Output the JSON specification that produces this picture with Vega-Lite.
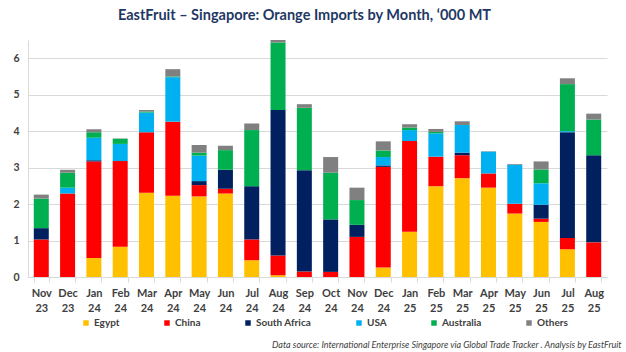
{
  "$schema": "https://vega.github.io/schema/vega-lite/v6.json",
  "width": 579,
  "height": 237,
  "autosize": {"type": "none"},
  "padding": {"left": 28, "top": 40, "right": 19, "bottom": 75},
  "background": "white",
  "title": {"text": "EastFruit – Singapore: Orange Imports by Month, ‘000 MT", "font": "Lato", "fontSize": 14.5, "fontWeight": "bold", "color": "#1F3864", "anchor": "middle", "offset": 17, "dx": -13},
  "data": {"values": [
    {"month": "Nov 23", "country": "China", "value": 1.03},
    {"month": "Nov 23", "country": "South Africa", "value": 0.31},
    {"month": "Nov 23", "country": "Australia", "value": 0.81},
    {"month": "Nov 23", "country": "Others", "value": 0.11},
    {"month": "Dec 23", "country": "China", "value": 2.29},
    {"month": "Dec 23", "country": "USA", "value": 0.16},
    {"month": "Dec 23", "country": "Australia", "value": 0.41},
    {"month": "Dec 23", "country": "Others", "value": 0.08},
    {"month": "Jan 24", "country": "Egypt", "value": 0.52},
    {"month": "Jan 24", "country": "China", "value": 2.65},
    {"month": "Jan 24", "country": "South Africa", "value": 0.03},
    {"month": "Jan 24", "country": "USA", "value": 0.62},
    {"month": "Jan 24", "country": "Australia", "value": 0.15},
    {"month": "Jan 24", "country": "Others", "value": 0.08},
    {"month": "Feb 24", "country": "Egypt", "value": 0.83},
    {"month": "Feb 24", "country": "China", "value": 2.35},
    {"month": "Feb 24", "country": "USA", "value": 0.47},
    {"month": "Feb 24", "country": "Australia", "value": 0.14},
    {"month": "Feb 24", "country": "Others", "value": 0.01},
    {"month": "Mar 24", "country": "Egypt", "value": 2.31},
    {"month": "Mar 24", "country": "China", "value": 1.66},
    {"month": "Mar 24", "country": "USA", "value": 0.54},
    {"month": "Mar 24", "country": "Australia", "value": 0.03},
    {"month": "Mar 24", "country": "Others", "value": 0.04},
    {"month": "Apr 24", "country": "Egypt", "value": 2.23},
    {"month": "Apr 24", "country": "China", "value": 2.03},
    {"month": "Apr 24", "country": "USA", "value": 1.22},
    {"month": "Apr 24", "country": "Australia", "value": 0.02},
    {"month": "Apr 24", "country": "Others", "value": 0.2},
    {"month": "May 24", "country": "Egypt", "value": 2.21},
    {"month": "May 24", "country": "China", "value": 0.31},
    {"month": "May 24", "country": "South Africa", "value": 0.11},
    {"month": "May 24", "country": "USA", "value": 0.7},
    {"month": "May 24", "country": "Australia", "value": 0.08},
    {"month": "May 24", "country": "Others", "value": 0.21},
    {"month": "Jun 24", "country": "Egypt", "value": 2.29},
    {"month": "Jun 24", "country": "China", "value": 0.13},
    {"month": "Jun 24", "country": "South Africa", "value": 0.52},
    {"month": "Jun 24", "country": "Australia", "value": 0.54},
    {"month": "Jun 24", "country": "Others", "value": 0.12},
    {"month": "Jul 24", "country": "Egypt", "value": 0.46},
    {"month": "Jul 24", "country": "China", "value": 0.57},
    {"month": "Jul 24", "country": "South Africa", "value": 1.46},
    {"month": "Jul 24", "country": "Australia", "value": 1.54},
    {"month": "Jul 24", "country": "Others", "value": 0.18},
    {"month": "Aug 24", "country": "Egypt", "value": 0.05},
    {"month": "Aug 24", "country": "China", "value": 0.54},
    {"month": "Aug 24", "country": "South Africa", "value": 3.99},
    {"month": "Aug 24", "country": "Australia", "value": 1.85},
    {"month": "Aug 24", "country": "Others", "value": 0.07},
    {"month": "Sep 24", "country": "China", "value": 0.15},
    {"month": "Sep 24", "country": "South Africa", "value": 2.78},
    {"month": "Sep 24", "country": "Australia", "value": 1.71},
    {"month": "Sep 24", "country": "Others", "value": 0.1},
    {"month": "Oct 24", "country": "China", "value": 0.14},
    {"month": "Oct 24", "country": "South Africa", "value": 1.44},
    {"month": "Oct 24", "country": "Australia", "value": 1.28},
    {"month": "Oct 24", "country": "Others", "value": 0.43},
    {"month": "Nov 24", "country": "China", "value": 1.1},
    {"month": "Nov 24", "country": "South Africa", "value": 0.33},
    {"month": "Nov 24", "country": "Australia", "value": 0.68},
    {"month": "Nov 24", "country": "Others", "value": 0.34},
    {"month": "Dec 24", "country": "Egypt", "value": 0.26},
    {"month": "Dec 24", "country": "China", "value": 2.76},
    {"month": "Dec 24", "country": "South Africa", "value": 0.04},
    {"month": "Dec 24", "country": "USA", "value": 0.23},
    {"month": "Dec 24", "country": "Australia", "value": 0.18},
    {"month": "Dec 24", "country": "Others", "value": 0.25},
    {"month": "Jan 25", "country": "Egypt", "value": 1.24},
    {"month": "Jan 25", "country": "China", "value": 2.49},
    {"month": "Jan 25", "country": "USA", "value": 0.3},
    {"month": "Jan 25", "country": "Australia", "value": 0.07},
    {"month": "Jan 25", "country": "Others", "value": 0.09},
    {"month": "Feb 25", "country": "Egypt", "value": 2.49},
    {"month": "Feb 25", "country": "China", "value": 0.81},
    {"month": "Feb 25", "country": "USA", "value": 0.64},
    {"month": "Feb 25", "country": "Australia", "value": 0.04},
    {"month": "Feb 25", "country": "Others", "value": 0.08},
    {"month": "Mar 25", "country": "Egypt", "value": 2.71},
    {"month": "Mar 25", "country": "China", "value": 0.63},
    {"month": "Mar 25", "country": "South Africa", "value": 0.07},
    {"month": "Mar 25", "country": "USA", "value": 0.76},
    {"month": "Mar 25", "country": "Others", "value": 0.1},
    {"month": "Apr 25", "country": "Egypt", "value": 2.45},
    {"month": "Apr 25", "country": "China", "value": 0.39},
    {"month": "Apr 25", "country": "USA", "value": 0.6},
    {"month": "Apr 25", "country": "Others", "value": 0.01},
    {"month": "May 25", "country": "Egypt", "value": 1.74},
    {"month": "May 25", "country": "China", "value": 0.27},
    {"month": "May 25", "country": "USA", "value": 1.07},
    {"month": "May 25", "country": "Others", "value": 0.02},
    {"month": "Jun 25", "country": "Egypt", "value": 1.51},
    {"month": "Jun 25", "country": "China", "value": 0.09},
    {"month": "Jun 25", "country": "South Africa", "value": 0.38},
    {"month": "Jun 25", "country": "USA", "value": 0.59},
    {"month": "Jun 25", "country": "Australia", "value": 0.38},
    {"month": "Jun 25", "country": "Others", "value": 0.22},
    {"month": "Jul 25", "country": "Egypt", "value": 0.76},
    {"month": "Jul 25", "country": "China", "value": 0.31},
    {"month": "Jul 25", "country": "South Africa", "value": 2.9},
    {"month": "Jul 25", "country": "USA", "value": 0.03},
    {"month": "Jul 25", "country": "Australia", "value": 1.29},
    {"month": "Jul 25", "country": "Others", "value": 0.16},
    {"month": "Aug 25", "country": "China", "value": 0.95},
    {"month": "Aug 25", "country": "South Africa", "value": 2.39},
    {"month": "Aug 25", "country": "Australia", "value": 0.98},
    {"month": "Aug 25", "country": "Others", "value": 0.16}
  ]},
  "transform": [{"window": [{"op": "row_number", "as": "idx"}]}],
  "mark": {"type": "bar"},
  "encoding": {
    "x": {
      "field": "month", "type": "ordinal",
      "sort": ["Nov 23", "Dec 23", "Jan 24", "Feb 24", "Mar 24", "Apr 24", "May 24", "Jun 24", "Jul 24", "Aug 24", "Sep 24", "Oct 24", "Nov 24", "Dec 24", "Jan 25", "Feb 25", "Mar 25", "Apr 25", "May 25", "Jun 25", "Jul 25", "Aug 25"],
      "scale": {"paddingInner": 0.43, "paddingOuter": 0.22},
      "axis": {
        "title": "Data source: International Enterprise Singapore via Global Trade Tracker . Analysis by EastFruit",
        "titleFont": "Lato", "titleFontStyle": "italic", "titleFontWeight": "normal", "titleFontSize": 9, "titleColor": "#404040",
        "titleX": 593, "titleY": 67, "titleAlign": "right", "titleBaseline": "middle", "titleAnchor": null,
        "labelExpr": "split(datum.label, ' ')",
        "labelFont": "Lato", "labelFontWeight": "bold", "labelFontSize": 11, "labelColor": "#404040",
        "labelAngle": 0, "labelPadding": 5, "labelLineHeight": 15,
        "ticks": true, "tickBand": "extent", "tickColor": "#D9D9D9", "tickSize": 5,
        "domainColor": "#D9D9D9", "domainWidth": 1, "grid": false
      }
    },
    "y": {
      "field": "value", "type": "quantitative", "stack": "zero",
      "scale": {"domain": [0, 6.5], "nice": false},
      "axis": {
        "title": null, "values": [0, 1, 2, 3, 4, 5, 6],
        "labelFont": "Lato", "labelFontWeight": "bold", "labelFontSize": 10.5, "labelColor": "#404040",
        "labelPadding": 9, "ticks": false, "domain": true, "domainColor": "#D9D9D9",
        "grid": true, "gridColor": "#D9D9D9", "gridWidth": 1
      }
    },
    "color": {
      "field": "country", "type": "nominal",
      "sort": ["Egypt", "China", "South Africa", "USA", "Australia", "Others"],
      "scale": {
        "domain": ["Egypt", "China", "South Africa", "USA", "Australia", "Others"],
        "range": ["#FFC000", "#FF0000", "#002060", "#00B0F0", "#00B050", "#808080"]
      },
      "legend": {
        "title": null, "orient": "none", "direction": "horizontal", "legendX": 53, "legendY": 278,
        "symbolType": "square", "symbolSize": 30, "symbolStrokeWidth": 0,
        "labelFont": "Lato", "labelFontWeight": "bold", "labelFontSize": 10, "labelColor": "#404040",
        "labelOffset": 3, "columnPadding": 42
      }
    },
    "order": {"field": "idx", "type": "quantitative", "sort": "ascending"}
  },
  "config": {"view": {"stroke": null}}
}
